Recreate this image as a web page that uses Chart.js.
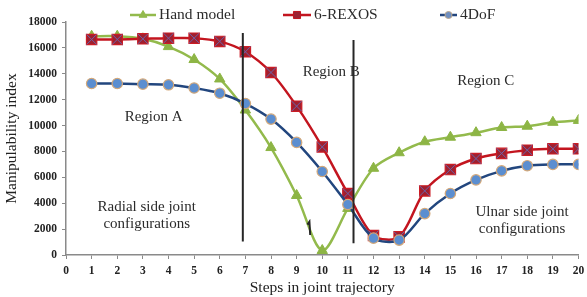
<!DOCTYPE html>
<html>
<head>
<meta charset="utf-8">
<script src="https://cdn.jsdelivr.net/npm/chart.js@4.4.1/dist/chart.umd.min.js"></script>
<style>
  html, body { margin: 0; padding: 0; background: #fff; }
  #wrap { width: 587px; height: 297px; }
</style>
</head>
<body>
<div id="wrap"><canvas id="chart"></canvas></div>
<script>
const steps = [1, 2, 3, 4, 5, 6, 7, 8, 9, 10, 11, 12, 13, 14, 15, 16, 17, 18, 19, 20];
const handModel = [16900, 16900, 16700, 16100, 15100, 13600, 11200, 8300, 4600, 350, 3600, 6700, 7900, 8750, 9100, 9450, 9850, 9950, 10250, 10400];
const rexos = [16650, 16650, 16700, 16750, 16750, 16500, 15700, 14100, 11500, 8350, 4750, 1500, 1400, 4950, 6600, 7450, 7850, 8100, 8200, 8200];
const dof4 = [13250, 13250, 13200, 13150, 12900, 12500, 11700, 10500, 8700, 6450, 3900, 1300, 1150, 3200, 4750, 5800, 6500, 6900, 7000, 7000];
const xTicks = [0, 20, 1];
const yTicks = [0, 18000, 2000];

// boundaries between the regions, and the stray mark under step 9-10
const boundaryA = [[6.9, 17150], [6.9, 1050]];
const boundaryB = [[11.22, 16600], [11.22, 900]];
const strayMark = [[9.42, 2350], [9.5, 2570], [9.53, 1550]];

const regionLabels = [
    { lines: ['Region A'], x: 3.42, y: 10660 },
    { lines: ['Region B'], x: 10.35, y: 14130 },
    { lines: ['Region C'], x: 16.38, y: 13440 },
    { lines: ['Radial side joint', 'configurations'], x: 3.15, y: 3730 },
    { lines: ['Ulnar side joint', 'configurations'], x: 17.8, y: 3340 }
];

const SERIF = '"Liberation Serif", "DejaVu Serif", serif';
const GREEN = '#93ba4c';
const RED = '#c3151f';
const BLUE = '#22467e';

function pts(ys) {
    return steps.map((s, i) => ({ x: s, y: ys[i] }));
}
function pairs(list) {
    return list.map(p => ({ x: p[0], y: p[1] }));
}

const legendItems = [
    { text: 'Hand model', x1: 130, x2: 156, color: GREEN, style: 'triangle', r: 4.5, fill: GREEN, border: GREEN },
    { text: '6-REXOS', x1: 283, x2: 311, color: RED, style: 'rect', r: 5, fill: '#9c2333', border: RED },
    { text: '4DoF', x1: 440, x2: 457, color: BLUE, style: 'circle', r: 3.5, fill: '#6f8fc0', border: '#b9a58c' }
];

const overlayPlugin = {
    id: 'overlay',
    afterDraw(chart) {
        const ctx = chart.ctx;
        const xs = chart.scales.x, ys = chart.scales.y;
        ctx.save();
        ctx.fillStyle = '#2b2b2b';
        ctx.textAlign = 'center';
        ctx.textBaseline = 'middle';
        ctx.font = '15px ' + SERIF;
        regionLabels.forEach(lab => {
            const px = xs.getPixelForValue(lab.x);
            const py = ys.getPixelForValue(lab.y);
            lab.lines.forEach((t, i) => ctx.fillText(t, px, py + i * 17.5));
        });

        // legend: line with marker, then label
        const ly = 15;
        legendItems.forEach(it => {
            ctx.strokeStyle = it.color;
            ctx.lineWidth = 2.5;
            ctx.beginPath();
            ctx.moveTo(it.x1, ly);
            ctx.lineTo(it.x2, ly);
            ctx.stroke();
            ctx.fillStyle = it.fill;
            ctx.strokeStyle = it.border;
            ctx.lineWidth = 1;
            Chart.helpers.drawPoint(ctx, { pointStyle: it.style, radius: it.r, rotation: 0, borderWidth: 1 },
                (it.x1 + it.x2) / 2, ly);
            ctx.fillStyle = '#2b2b2b';
            ctx.textAlign = 'left';
            ctx.font = '15.5px ' + SERIF;
            ctx.fillText(it.text, it.x2 + 3, ly);
        });
        ctx.restore();
    }
};

const axisFont = { family: SERIF, size: 11.5, weight: 'bold' };

new Chart(document.getElementById('chart'), {
    type: 'line',
    data: {
        datasets: [
            {
                label: 'boundaryA', data: pairs(boundaryA), order: 0,
                borderColor: '#262626', borderWidth: 2, pointRadius: 0, tension: 0
            },
            {
                label: 'boundaryB', data: pairs(boundaryB), order: 0,
                borderColor: '#262626', borderWidth: 2, pointRadius: 0, tension: 0
            },
            {
                label: 'mark', data: pairs(strayMark), order: 0,
                borderColor: '#262626', borderWidth: 2, pointRadius: 0, tension: 0
            },
            {
                label: '4DoF', data: pts(dof4), order: 1,
                borderColor: BLUE, borderWidth: 2.5, tension: 0.3,
                pointStyle: 'circle', pointRadius: 5.2,
                pointBackgroundColor: '#5b8ed0', pointBorderColor: '#d3a87a', pointBorderWidth: 1.2
            },
            {
                label: 'x', data: pts(rexos), order: 1.5, showLine: false,
                pointStyle: 'crossRot', pointRadius: 7.3,
                pointBorderColor: '#6d62a8', pointBorderWidth: 1
            },
            {
                label: '6-REXOS', data: pts(rexos), order: 2,
                borderColor: RED, borderWidth: 2.5, tension: 0.3,
                pointStyle: 'rect', pointRadius: 7.3,
                pointBackgroundColor: '#a0202f', pointBorderColor: '#cc1c24', pointBorderWidth: 1.2
            },
            {
                label: 'Hand model', data: pts(handModel), order: 3,
                borderColor: GREEN, borderWidth: 2.5, tension: 0.3,
                pointStyle: 'triangle', pointRadius: 6,
                pointBackgroundColor: '#8db545', pointBorderColor: '#8db545', pointBorderWidth: 1
            }
        ]
    },
    options: {
        responsive: true,
        maintainAspectRatio: false,
        animation: false,
        layout: { padding: { top: 22, right: 0, left: 0, bottom: 0 } },
        plugins: {
            legend: { display: false },
            tooltip: { enabled: false }
        },
        scales: {
            x: {
                type: 'linear',
                min: xTicks[0], max: xTicks[1],
                ticks: { stepSize: xTicks[2], color: '#222', font: axisFont, padding: 5, maxRotation: 0, autoSkip: false,
                         callback: v => String(v) },
                grid: { drawOnChartArea: false, tickLength: 4, color: '#8a8a8a', lineWidth: 1 },
                border: { color: '#8a8a8a', width: 1.5 },
                title: { display: true, text: 'Steps in joint trajectory', color: '#222',
                         font: { family: SERIF, size: 15.5 }, padding: { top: 0, bottom: 0 } },
                afterFit(scale) {
                    scale.height = 42;
                    scale.paddingRight = 2;
                }
            },
            y: {
                min: yTicks[0], max: yTicks[1],
                ticks: { stepSize: yTicks[2], color: '#222', font: axisFont, padding: 5,
                         callback: v => String(v) },
                grid: { drawOnChartArea: false, tickLength: 4, color: '#8a8a8a', lineWidth: 1 },
                border: { color: '#8a8a8a', width: 1.5 },
                title: { display: true, text: 'Manipulability index', color: '#222',
                         font: { family: SERIF, size: 15.5 }, padding: { top: 3, bottom: 0 } },
                afterFit(scale) { scale.width = 66; }
            }
        }
    },
    plugins: [overlayPlugin]
});
</script>
</body>
</html>
